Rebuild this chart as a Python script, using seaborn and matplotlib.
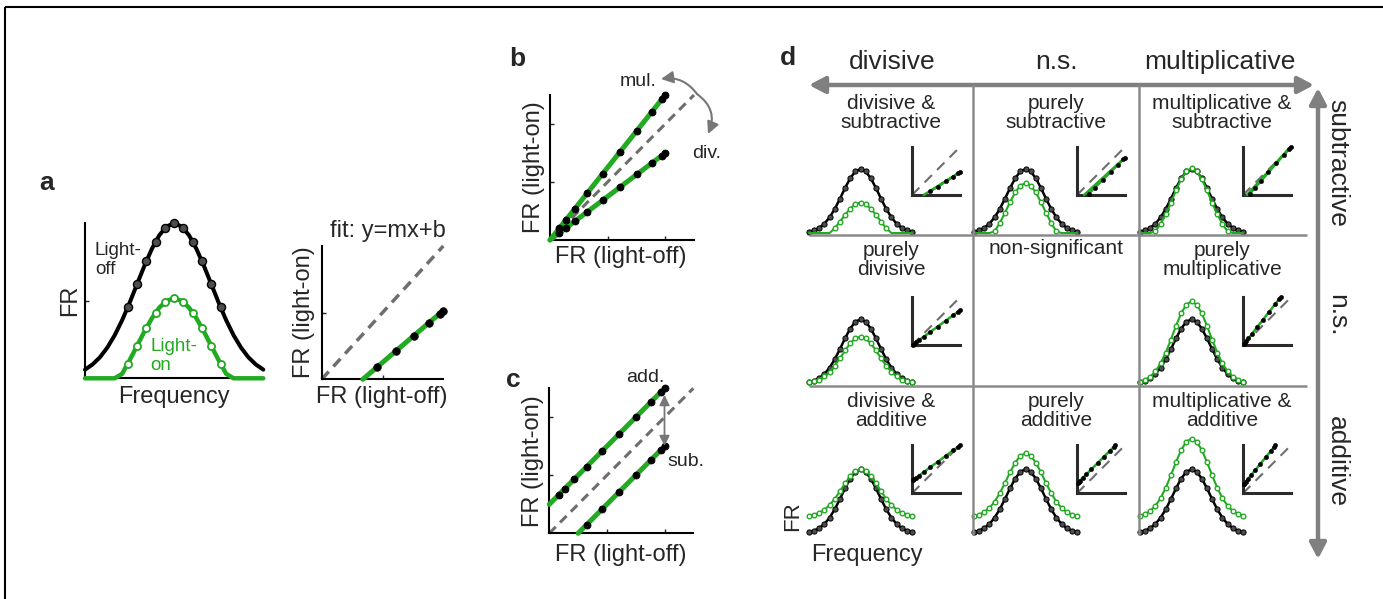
import matplotlib
matplotlib.use("Agg")
import matplotlib.pyplot as plt
from matplotlib.patches import FancyArrowPatch
import seaborn as sns

sns.set_style("white")
plt.rcParams['font.family'] = ['Liberation Sans', 'DejaVu Sans']

# ---------------- data ----------------
GREEN = "#22aa22"
OFFDOT = "#4d4d4d"
DASH = "#6e6e6e"
DIVC = "#8a8a8a"

# panel a : tuning curves (frequency in tuning-width units)
a_freq_line = [-2.4, -2.2, -2.0, -1.8, -1.6, -1.4, -1.2, -1.0, -0.8, -0.6, -0.4, -0.2, 0.0,
               0.2, 0.4, 0.6, 0.8, 1.0, 1.2, 1.4, 1.6, 1.8, 2.0, 2.2, 2.4]
a_off_line = [0.056, 0.089, 0.135, 0.198, 0.278, 0.375, 0.487, 0.607, 0.726, 0.835, 0.923, 0.980, 1.000,
              0.980, 0.923, 0.835, 0.726, 0.607, 0.487, 0.375, 0.278, 0.198, 0.135, 0.089, 0.056]
a_on_line = [0, 0, 0, 0, 0, 0.029, 0.116, 0.209, 0.302, 0.387, 0.456, 0.500, 0.516,
             0.500, 0.456, 0.387, 0.302, 0.209, 0.116, 0.029, 0, 0, 0, 0, 0]
a_freq_dots = [-1.25, -1.0, -0.75, -0.5, -0.25, 0.0, 0.25, 0.5, 0.75, 1.0, 1.25]
a_off_dots = [0.458, 0.607, 0.755, 0.882, 0.969, 1.000, 0.969, 0.882, 0.755, 0.607, 0.458]
a_on_dots = [0.093, 0.209, 0.325, 0.424, 0.492, 0.516, 0.492, 0.424, 0.325, 0.209, 0.093]
a_fit_x = [0.338, 1.0]
a_fit_y = [0.0, 0.516]
identity = [0.0, 1.0]

# panel b : multiplicative / divisive
b_off = [0.064, 0.108, 0.173, 0.260, 0.366, 0.486, 0.604, 0.706, 0.775, 0.800]
b_mul = [0.080, 0.135, 0.216, 0.325, 0.458, 0.607, 0.755, 0.882, 0.969, 1.000]
b_div = [0.048, 0.081, 0.130, 0.195, 0.275, 0.364, 0.453, 0.530, 0.581, 0.600]
b_line_x = [0.0, 0.8]
b_mul_line = [0.0, 1.0]
b_div_line = [0.0, 0.6]

# panel c : additive / subtractive
c_off = [0.064, 0.108, 0.173, 0.260, 0.366, 0.486, 0.604, 0.706, 0.775, 0.800]
c_add = [0.264, 0.308, 0.373, 0.460, 0.566, 0.686, 0.804, 0.906, 0.975, 1.000]
c_sub_x = [0.260, 0.366, 0.486, 0.604, 0.706, 0.775, 0.800]
c_sub = [0.060, 0.166, 0.286, 0.404, 0.506, 0.575, 0.600]
c_add_line_x = [0.0, 0.8]
c_add_line = [0.2, 1.0]
c_sub_line_x = [0.2, 0.8]
c_sub_line = [0.0, 0.6]

# panel d : tuning curves of the 3x3 grid
d_freq = [-2.8, -2.52, -2.24, -1.96, -1.68, -1.4, -1.12, -0.84, -0.56, -0.28, 0.0,
          0.28, 0.56, 0.84, 1.12, 1.4, 1.68, 1.96, 2.24, 2.52, 2.8]
d_off = [0.020, 0.042, 0.081, 0.146, 0.244, 0.375, 0.534, 0.703, 0.855, 0.962, 1.000,
         0.962, 0.855, 0.703, 0.534, 0.375, 0.244, 0.146, 0.081, 0.042, 0.020]
d_on_div_sub = [0, 0, 0, 0, 0, 0.074, 0.176, 0.284, 0.381, 0.450, 0.474,
                0.450, 0.381, 0.284, 0.176, 0.074, 0, 0, 0, 0, 0]
d_on_sub = [0, 0, 0, 0, 0.024, 0.155, 0.314, 0.483, 0.635, 0.742, 0.780,
            0.742, 0.635, 0.483, 0.314, 0.155, 0.024, 0, 0, 0, 0]
d_on_mul_sub = [0, 0, 0, 0.028, 0.141, 0.291, 0.474, 0.668, 0.843, 0.966, 1.010,
                0.966, 0.843, 0.668, 0.474, 0.291, 0.141, 0.028, 0, 0, 0]
d_on_div = [0.015, 0.031, 0.059, 0.107, 0.178, 0.274, 0.390, 0.513, 0.624, 0.702, 0.730,
            0.702, 0.624, 0.513, 0.390, 0.274, 0.178, 0.107, 0.059, 0.031, 0.015]
d_on_mul = [0.026, 0.054, 0.104, 0.187, 0.312, 0.480, 0.684, 0.900, 1.094, 1.231, 1.280,
            1.231, 1.094, 0.900, 0.684, 0.480, 0.312, 0.187, 0.104, 0.054, 0.026]
d_on_div_add = [0.275, 0.291, 0.320, 0.368, 0.441, 0.538, 0.655, 0.780, 0.893, 0.972, 1.000,
                0.972, 0.893, 0.780, 0.655, 0.538, 0.441, 0.368, 0.320, 0.291, 0.275]
d_on_add = [0.270, 0.292, 0.331, 0.396, 0.494, 0.625, 0.784, 0.953, 1.105, 1.212, 1.250,
            1.212, 1.105, 0.953, 0.784, 0.625, 0.494, 0.396, 0.331, 0.292, 0.270]
d_on_mul_add = [0.275, 0.302, 0.350, 0.430, 0.550, 0.711, 0.907, 1.115, 1.302, 1.433, 1.480,
                1.433, 1.302, 1.115, 0.907, 0.711, 0.550, 0.430, 0.350, 0.302, 0.275]

d_cells = [
    [("divisive &\nsubtractive", d_on_div_sub), ("purely\nsubtractive", d_on_sub),
     ("multiplicative &\nsubtractive", d_on_mul_sub)],
    [("purely\ndivisive", d_on_div), ("non-significant", None),
     ("purely\nmultiplicative", d_on_mul)],
    [("divisive &\nadditive", d_on_div_add), ("purely\nadditive", d_on_add),
     ("multiplicative &\nadditive", d_on_mul_add)],
]
d_col_headers = ["divisive", "n.s.", "multiplicative"]
d_row_headers = ["subtractive", "n.s.", "additive"]

# ---------------- figure ----------------
W, H = 1383, 599
fig = plt.figure(figsize=(W / 100, H / 100), dpi=100)


def px_axes(x0, y0, x1, y1):
    return fig.add_axes([x0 / W, 1 - y1 / H, (x1 - x0) / W, (y1 - y0) / H])


def curve(ax, x, y, color, lw, z=2, **kw):
    sns.lineplot(x=x, y=y, ax=ax, color=color, linewidth=lw, estimator=None,
                 sort=False, legend=False, clip_on=False, zorder=z, **kw)


def dots(ax, x, y, face, edge, s, elw, z=3):
    sns.scatterplot(x=x, y=y, ax=ax, color=face, edgecolor=edge, s=s,
                    linewidth=elw, legend=False, clip_on=False, zorder=z)


def frame(ax, lw=1.5, color='black'):
    for sp in ['top', 'right']:
        ax.spines[sp].set_visible(False)
    for sp in ['left', 'bottom']:
        ax.spines[sp].set_color(color)
        ax.spines[sp].set_linewidth(lw)
    ax.set_xlabel('')
    ax.set_ylabel('')
    ax.patch.set_alpha(0)


# ---- panel a left ----
ax = px_axes(85, 223.3, 263.3, 378.3)
curve(ax, a_freq_line, a_off_line, 'black', 2.9)
dots(ax, a_freq_dots, a_off_dots, OFFDOT, 'black', 34, 1.0)
curve(ax, a_freq_line, a_on_line, GREEN, 3.2, z=4)
dots(ax, a_freq_dots, a_on_dots, 'white', GREEN, 26, 1.3, z=5)
ax.set_xlim(-2.4, 2.4)
ax.set_ylim(0, 1)
frame(ax)
ax.set_xticks([])
ax.set_yticks([0.5])
ax.tick_params(direction='in', length=3, width=1, labelleft=False, left=True)

# ---- panel a right ----
ax = px_axes(321.7, 246, 443.3, 379.3)
curve(ax, identity, identity, DASH, 2.5, dashes=(3, 2))
curve(ax, a_fit_x, a_fit_y, GREEN, 3.6, z=3)
dots(ax, a_off_dots[:6], a_on_dots[:6], 'black', 'black', 30, 0.5, z=4)
ax.set_xlim(0, 1)
ax.set_ylim(0, 1)
frame(ax)
ax.set_xticks([0.5])
ax.set_yticks([0.5])
ax.tick_params(direction='in', length=3, width=1, labelleft=False, labelbottom=False,
               left=True, bottom=True)

# ---- panel b ----
ax = px_axes(550, 95, 694, 240)
curve(ax, identity, identity, DASH, 2.2, dashes=(3, 2))
curve(ax, b_line_x, b_mul_line, GREEN, 3.6, z=3)
curve(ax, b_line_x, b_div_line, GREEN, 3.6, z=3)
dots(ax, b_off, b_mul, 'black', 'black', 26, 0.5, z=4)
dots(ax, b_off, b_div, 'black', 'black', 26, 0.5, z=4)
ax.set_xlim(0, 1)
ax.set_ylim(0, 1)
frame(ax)
ax.set_xticks([0.4, 0.8])
ax.set_yticks([0.4, 0.8])
ax.tick_params(direction='in', length=3, width=1, labelleft=False, labelbottom=False,
               left=True, bottom=True)

# ---- panel c ----
ax = px_axes(549.3, 388.3, 693.3, 533.3)
curve(ax, identity, identity, DASH, 2.2, dashes=(3, 2))
curve(ax, c_add_line_x, c_add_line, GREEN, 3.6, z=3)
curve(ax, c_sub_line_x, c_sub_line, GREEN, 3.6, z=3)
dots(ax, c_off, c_add, 'black', 'black', 26, 0.5, z=4)
dots(ax, c_sub_x, c_sub, 'black', 'black', 26, 0.5, z=4)
ax.set_xlim(0, 1)
ax.set_ylim(0, 1)
frame(ax)
ax.set_xticks([0.4, 0.8])
ax.set_yticks([0.4, 0.8])
ax.tick_params(direction='in', length=3, width=1, labelleft=False, labelbottom=False,
               left=True, bottom=True)

# ---- panel d ----
col_left = [809, 974, 1140]
row_base = [233, 383.3, 533.3]
for r in range(3):
    for c in range(3):
        title, on = d_cells[r][c]
        if on is None:
            continue
        xl, yb = col_left[c], row_base[r]
        ax = px_axes(xl, yb - 64, xl + 103, yb)
        curve(ax, d_freq, d_off, 'black', 1.8)
        dots(ax, d_freq, d_off, OFFDOT, 'black', 14, 0.7)
        curve(ax, d_freq, on, GREEN, 1.5, z=4)
        gx = [f for f, v in zip(d_freq, on) if v > 0]
        gy = [v for v in on if v > 0]
        dots(ax, gx, gy, 'white', GREEN, 11, 1.0, z=5)
        ax.set_xlim(-2.8, 2.8)
        ax.set_ylim(0, 1)
        ax.axis('off')
        # inset: light-on vs light-off
        iy = yb - 38 if r < 2 else yb - 40
        ix = xl + 103
        ia = px_axes(ix, iy - 48, ix + 48, iy)
        hx = d_off[10:]
        hy = on[10:]
        keep = [i for i, v in enumerate(hy) if v > 0]
        zeros = [i for i, v in enumerate(hy) if v <= 0]
        if zeros:
            keep = [zeros[0]] + keep
        px_ = [hx[i] for i in keep]
        py_ = [hy[i] for i in keep]
        rng = max(1.0, max(on))
        curve(ia, [0, rng], [0, rng], DASH, 1.5, dashes=(5, 3.5))
        curve(ia, px_, py_, GREEN, 1.8, z=3)
        dots(ia, [hx[i] for i in keep if hy[i] > 0], [hy[i] for i in keep if hy[i] > 0],
             'black', 'black', 10, 0.3, z=4)
        ia.set_xlim(0, rng)
        ia.set_ylim(0, rng)
        frame(ia, lw=2.2, color='#2b2b2b')
        ia.set_xticks([])
        ia.set_yticks([])

# ---------------- overlay (text, arrows, grid lines) ----------------
ov = fig.add_axes([0, 0, 1, 1])
ov.set_xlim(0, W)
ov.set_ylim(H, 0)
ov.axis('off')

# border
ov.plot([5, 5], [7, H], color='black', lw=1.5, solid_capstyle='butt')
ov.plot([5, W], [7, 7], color='black', lw=1.5, solid_capstyle='butt')

LAB = 17
for ch, (x, y) in zip("abcd", [(47, 183), (517, 59), (513, 380), (788, 58)]):
    ov.text(x, y, ch, fontsize=19, fontweight='bold', ha='center', va='center')

# panel a texts
ov.text(70, 300, "FR", fontsize=LAB, rotation=90, ha='center', va='center')
ov.text(174, 397, "Frequency", fontsize=LAB, ha='center', va='center')
ov.text(95, 260, "Light-\noff", fontsize=13.5, ha='left', va='center', linespacing=1.1)
ov.text(150, 356, "Light-\non", fontsize=13.5, ha='left', va='center', linespacing=1.1,
        color=GREEN)
ov.text(388, 231, "fit: y=mx+b", fontsize=LAB, ha='center', va='center')
ov.text(304, 312, "FR (light-on)", fontsize=LAB, rotation=90, ha='center', va='center')
ov.text(382, 397, "FR (light-off)", fontsize=LAB, ha='center', va='center')

# panel b texts and arrows
ov.text(534, 167, "FR (light-on)", fontsize=LAB, rotation=90, ha='center', va='center')
ov.text(621, 257, "FR (light-off)", fontsize=LAB, ha='center', va='center')
ov.text(638, 81, "mul.", fontsize=14, ha='center', va='center')
ov.text(707, 153, "div.", fontsize=14, ha='center', va='center')
ov.add_patch(FancyArrowPatch((697, 94), (661, 79), connectionstyle="arc3,rad=0.3",
                             arrowstyle="-|>,head_length=0.9,head_width=0.45",
                             mutation_scale=8, lw=1.5, color='#777777',
                             shrinkA=0, shrinkB=0))
ov.add_patch(FancyArrowPatch((697, 94), (708, 134), connectionstyle="arc3,rad=-0.4",
                             arrowstyle="-|>,head_length=0.9,head_width=0.45",
                             mutation_scale=8, lw=1.5, color='#777777',
                             shrinkA=0, shrinkB=0))

# panel c texts and arrow
ov.text(533, 461, "FR (light-on)", fontsize=LAB, rotation=90, ha='center', va='center')
ov.text(621, 555, "FR (light-off)", fontsize=LAB, ha='center', va='center')
ov.text(645, 378, "add.", fontsize=14, ha='center', va='center')
ov.text(686, 462, "sub.", fontsize=14, ha='center', va='center')
ov.add_patch(FancyArrowPatch((664.5, 395), (664.5, 446),
                             arrowstyle="<|-|>,head_length=1.0,head_width=0.5",
                             mutation_scale=6, lw=1.3, color='#777777',
                             shrinkA=0, shrinkB=0))

# panel d grid
for x in [973, 1139]:
    ov.plot([x, x], [85, 535], color=DIVC, lw=1.8, solid_capstyle='butt')
for y in [235, 386]:
    ov.plot([809, 1307], [y, y], color=DIVC, lw=1.8, solid_capstyle='butt')
ov.add_patch(FancyArrowPatch((809, 85), (1314, 85),
                             arrowstyle="<|-|>,head_length=0.95,head_width=0.5",
                             mutation_scale=10, lw=3.2, color='#808080',
                             shrinkA=0, shrinkB=0))
ov.add_patch(FancyArrowPatch((1318, 88), (1318, 559),
                             arrowstyle="<|-|>,head_length=0.95,head_width=0.5",
                             mutation_scale=10, lw=3.2, color='#808080',
                             shrinkA=0, shrinkB=0))

for txt, x in zip(d_col_headers, [892, 1056, 1220]):
    ov.text(x, 62, txt, fontsize=19, ha='center', va='center')
for txt, y in zip(d_row_headers, [163, 315, 462]):
    ov.text(1337, y, txt, fontsize=19, rotation=-90, ha='center', va='center')

label_x = [891, 1056, 1222]
label_y = [113, 260, 411]
for r in range(3):
    for c in range(3):
        title = d_cells[r][c][0]
        y = label_y[r] if "\n" in title else label_y[r] - 12
        ov.text(label_x[c], y, title, fontsize=15, ha='center', va='center',
                linespacing=0.95)

ov.text(793, 516, "FR", fontsize=16, rotation=90, ha='center', va='center')
ov.text(867, 555, "Frequency", fontsize=LAB, ha='center', va='center')

fig.savefig("out.png", dpi=100)
